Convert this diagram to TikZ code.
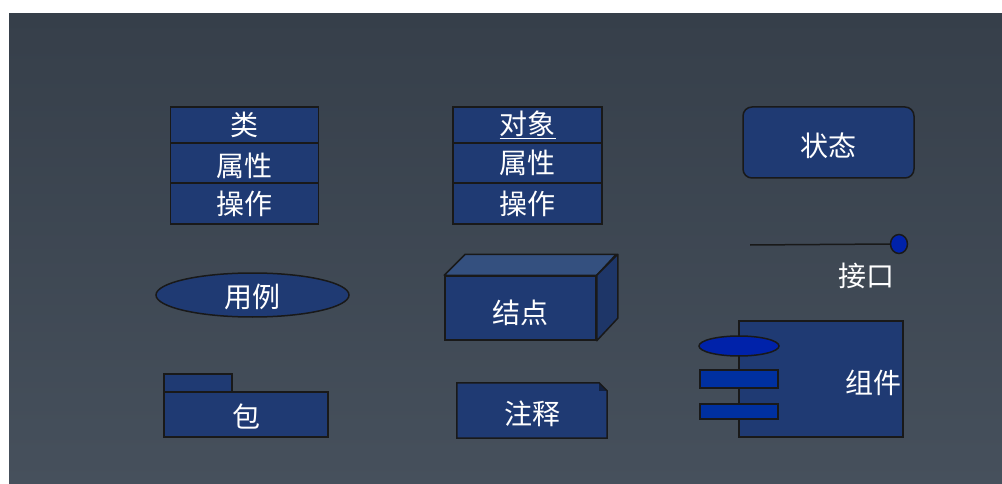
\documentclass[tikz,border=0pt]{standalone}
\usepackage{fontspec}
\newfontfamily\cjk{Noto Sans CJK SC}
\usetikzlibrary{positioning,shapes.geometric}
\definecolor{umlblue}{RGB}{31,58,115}
\definecolor{umltop}{RGB}{52,80,127}
\definecolor{umlside}{RGB}{30,54,104}
\definecolor{portblue}{RGB}{0,34,170}
\definecolor{barblue}{RGB}{0,48,160}
\definecolor{bgtop}{RGB}{54,63,74}
\definecolor{bgbot}{RGB}{70,80,92}
\tikzset{
  edge/.style={draw=black!90, line width=1.5pt},
  box/.style={edge, fill=umlblue, rectangle, inner sep=0pt},
  lbl/.style={text=white, font=\cjk\fontsize{28}{30}\selectfont, inner sep=0pt},
}
\begin{document}
\begin{tikzpicture}[x=1pt,y=-1pt]
  % background
  \fill[white] (0,0) rectangle (1002,484);
  \shade[top color=bgtop, bottom color=bgbot] (9,14) rectangle (1002,484);

  % class
  \node[box, lbl, minimum width=148pt, minimum height=36pt] (clsname) at (244.5,125) {类};
  \node[box, lbl, minimum width=148pt, minimum height=40pt] (clsattr) at (244.5,163) {};
  \node[lbl] (clsattrlbl) at (244.5,166) {属性};
  \node[box, lbl, minimum width=148pt, minimum height=41pt] (clsop) at (244.5,203.5) {操作};

  % object
  \node[box, lbl, minimum width=149pt, minimum height=36pt] (objname) at (527.5,125) {\underline{对象}};
  \node[box, lbl, minimum width=149pt, minimum height=40pt] (objattr) at (527.5,163) {属性};
  \node[box, lbl, minimum width=149pt, minimum height=41pt] (objop) at (527.5,203.5) {操作};

  % state
  \node[box, rounded corners=9pt, minimum width=171pt, minimum height=71pt] (state) at (828.5,142.5) {};
  \node[lbl] (statelbl) at (828.5,146) {状态};

  % interface
  \node[edge, fill=portblue, ellipse, minimum width=17pt, minimum height=19pt, inner sep=0pt] (port) at (899,244) {};
  \coordinate (portend) at (750,245);
  \draw[edge] (portend) -- (port.west);
  \node[lbl] (portlbl) at (866,276) {接口};

  % use case
  \node[box, ellipse, minimum width=193pt, minimum height=44pt] (usecase) at (252.5,295) {};
  \node[lbl] (usecaselbl) at (252.5,297) {用例};

  % node (cube)
  \node[box, minimum width=151pt, minimum height=64pt] (cube) at (520.5,308) {};
  \draw[edge, fill=umltop, line join=round] (cube.north west) -- ++(21,-21) -- ++(151,0) -- (cube.north east) -- cycle;
  \draw[edge, fill=umlside, line join=round] (cube.north east) -- ++(21,-21) -- ++(0,64) -- (cube.south east) -- cycle;
  \node[lbl] (cubelbl) at (520,313) {结点};

  % package
  \node[box, minimum width=68pt, minimum height=18pt] (pkgtab) at (198,383) {};
  \node[box, minimum width=164pt, minimum height=45pt] (pkg) at (246,414.5) {};
  \node[lbl] (pkglbl) at (246,416) {包};

  % note
  \node[minimum width=150pt, minimum height=55pt, inner sep=0pt] (note) at (532,410.5) {};
  \fill[umlblue] (note.north west) -- ([xshift=-8pt]note.north east) -- ([yshift=-8pt]note.north east) -- (note.south east) -- (note.south west) -- cycle;
  \fill[umlside!60!black] ([xshift=-8pt]note.north east) -- ([yshift=-8pt]note.north east) -- ([xshift=-8pt,yshift=-8pt]note.north east) -- cycle;
  \draw[edge] (note.north west) -- ([xshift=-8pt]note.north east) -- ([yshift=-8pt]note.north east) -- (note.south east) -- (note.south west) -- cycle;
  \node[lbl] (notelbl) at (532,413.5) {注释};

  % component
  \node[box, minimum width=164pt, minimum height=116pt] (comp) at (821,379) {};
  \node[lbl, anchor=east] (complbl) at (902,383) {组件};
  \node[edge, fill=portblue, ellipse, minimum width=80pt, minimum height=20pt, inner sep=0pt] (compport) at (739,346) {};
  \node[edge, fill=barblue, minimum width=78pt, minimum height=18pt, inner sep=0pt] (compbara) at (739,379) {};
  \node[edge, fill=barblue, minimum width=78pt, minimum height=15pt, inner sep=0pt] (compbarb) at (739,411.5) {};
\end{tikzpicture}
\end{document}
